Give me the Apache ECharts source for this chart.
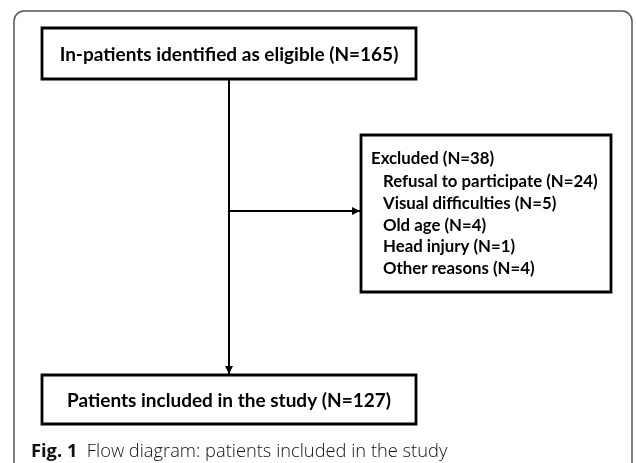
<!DOCTYPE html>
<html><head><meta charset="utf-8">
<script src="https://cdn.jsdelivr.net/npm/echarts@6/dist/echarts.min.js"></script>
<style>html,body{margin:0;padding:0;background:#fff}#c{width:636px;height:463px}</style>
</head><body><div id="c"></div>
<script>
// ---- data ----
const stageLabels = ['In-patients identified as eligible', 'Patients included in the study'];
const stageCounts = [165, 127];
const excludedLabel = 'Excluded';
const excludedTotal = 38;
const reasonLabels = ['Refusal to participate', 'Visual difficulties', 'Old age', 'Head injury', 'Other reasons'];
const reasonCounts = [24, 5, 4, 1, 4];
const captionBold = 'Fig. 1';
const captionText = 'Flow diagram: patients included in the study';

// ---- layout ----
const FONT = 'Lato';
const BOX = {stroke: '#000', lineWidth: 2.8, fill: '#fff'};
const topBox = {x: 42, y: 28, w: 374, h: 51};
const botBox = {x: 42, y: 375, w: 374, h: 49};
const exBox = {x: 361, y: 135, w: 250, h: 157};
const cx = 229, armY = 211;

function arrowHead(x, y, dir) {
  const L = 8, W = 4;
  let pts;
  if (dir === 'down') pts = [[x - W, y - L], [x + W, y - L], [x, y]];
  else pts = [[x - L, y - W], [x - L, y + W], [x, y]];
  return {type: 'polygon', shape: {points: pts}, style: {fill: '#000'}, z: 5};
}
function rect(b) {
  return {type: 'rect', shape: {x: b.x, y: b.y, width: b.w, height: b.h}, style: Object.assign({}, BOX), z: 3};
}
function nLabel(name, n) { return name + ' (N=' + n + ')'; }

const elements = [];
// outer frame
elements.push({type: 'rect', shape: {x: 14, y: 11, width: 618, height: 520, r: 10},
  style: {fill: 'none', stroke: '#555', lineWidth: 1.5}, z: 1});
// connectors
elements.push({type: 'line', shape: {x1: cx, y1: topBox.y + topBox.h, x2: cx, y2: botBox.y - 1}, style: {stroke: '#000', lineWidth: 2}, z: 4});
elements.push(arrowHead(cx, botBox.y - 1, 'down'));
elements.push({type: 'line', shape: {x1: cx, y1: armY, x2: exBox.x - 1, y2: armY}, style: {stroke: '#000', lineWidth: 2}, z: 4});
elements.push(arrowHead(exBox.x - 1, armY, 'right'));
// boxes
[topBox, botBox, exBox].forEach(b => elements.push(rect(b)));
// stage texts
[topBox, botBox].forEach((b, i) => elements.push({type: 'text', x: b.x + b.w / 2, y: b.y + b.h / 2 + 1, z: 6,
  style: {text: nLabel(stageLabels[i], stageCounts[i]), font: 'bold 19px ' + FONT, fill: '#000', align: 'center', verticalAlign: 'middle'}}));
// excluded texts
elements.push({type: 'text', x: 371, y: 159, z: 6,
  style: {text: nLabel(excludedLabel, excludedTotal), font: 'bold 16.8px ' + FONT, fill: '#000', align: 'left', verticalAlign: 'middle'}});
reasonLabels.forEach((r, i) => elements.push({type: 'text', x: 383, y: 181.5 + i * 21.8, z: 6,
  style: {text: nLabel(r, reasonCounts[i]), font: 'bold 16.8px ' + FONT, fill: '#000', align: 'left', verticalAlign: 'middle'}}));
// caption
elements.push({type: 'text', x: 31, y: 452, z: 6,
  style: {text: '{b|' + captionBold + '}{n|  ' + captionText + '}', verticalAlign: 'middle', align: 'left',
    rich: {b: {font: 'bold 18.3px "Open Sans"', fill: '#111'}, n: {font: '300 18.3px "Open Sans"', fill: '#111'}}}});

const chart = echarts.init(document.getElementById('c'), null, {renderer: 'canvas'});
chart.setOption({animation: false, backgroundColor: '#fff', graphic: {elements: elements}});
</script></body></html>
